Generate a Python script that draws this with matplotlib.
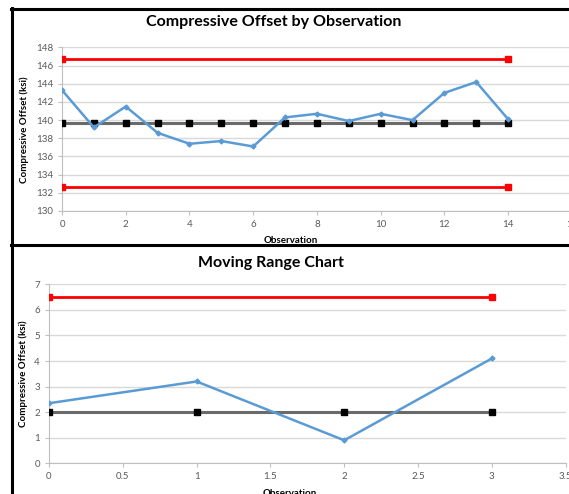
import matplotlib
matplotlib.use('Agg')
import matplotlib.pyplot as plt
from matplotlib.lines import Line2D

plt.rcParams['font.family'] = ['Lato', 'DejaVu Sans']

# top chart data
obs = list(range(15))
offset = [143.3, 139.2, 141.5, 138.6, 137.4, 137.7, 137.1, 140.3, 140.7, 139.9, 140.7, 140.0, 143.0, 144.2, 140.1]
center = 139.7
ucl = 146.7
lcl = 132.6

# moving range data
mr_obs = [0, 1, 2, 3]
mr = [2.35, 3.2, 0.9, 4.1]
mr_center = 2.0
mr_ucl = 6.5

blue = '#5B9BD5'
tick_col = '#595959'
grid_col = '#D9D9D9'
W, H = 569, 494

fig = plt.figure(figsize=(5.69, 4.94), dpi=100)

def style(ax):
    ax.set_facecolor('white')
    ax.grid(axis='y', color=grid_col, lw=1)
    ax.set_axisbelow(True)
    for s in ['top', 'right']:
        ax.spines[s].set_visible(False)
    for s in ['left', 'bottom']:
        ax.spines[s].set_color('#BFBFBF')
    ax.tick_params(colors='#BFBFBF', labelcolor=tick_col, labelsize=7, length=3, width=0.8)

# --- top: individuals chart
ax1 = fig.add_axes([0.109, 0.5729, 0.896, 0.331])
style(ax1)
ax1.plot(obs, [center] * len(obs), color='#6A6A6A', lw=2.2, marker='s', ms=4, mfc='black', mec='black', zorder=3)
ax1.plot([obs[0], obs[-1]], [ucl, ucl], color='red', lw=2, marker='s', ms=4, zorder=3)
ax1.plot([obs[0], obs[-1]], [lcl, lcl], color='red', lw=2, marker='s', ms=4, zorder=3)
ax1.plot(obs, offset, color=blue, lw=1.8, marker='D', ms=2.5, zorder=4)
ax1.set_xlim(0, 16)
ax1.set_ylim(130, 148)
ax1.set_xticks(range(0, 17, 2))
ax1.set_yticks(range(130, 149, 2))
ax1.set_ylabel('Compressive Offset (ksi)', fontsize=7, fontweight='bold')
ax1.yaxis.set_label_coords(-0.064, 0.5)
ax1.set_xlabel('Observation', fontsize=7, fontweight='bold')
ax1.xaxis.set_label_coords(0.449, -0.152)
fig.text(274 / W, 1 - 22 / H, 'Compressive Offset by Observation', fontsize=11.5,
         fontweight='bold', ha='center', va='center')

# --- bottom: moving range chart
ax2 = fig.add_axes([0.0861, 0.0621, 0.908, 0.3624])
style(ax2)
ax2.plot(mr_obs, [mr_center] * len(mr_obs), color='#6A6A6A', lw=2.2, marker='s', ms=4, mfc='black', mec='black', zorder=3)
ax2.plot([mr_obs[0], mr_obs[-1]], [mr_ucl, mr_ucl], color='red', lw=2, marker='s', ms=4, zorder=3)
ax2.plot(mr_obs, mr, color=blue, lw=1.8, marker='D', ms=2.5, zorder=4)
ax2.set_xlim(0, 3.5)
ax2.set_ylim(0, 7)
ax2.set_xticks([0, 0.5, 1, 1.5, 2, 2.5, 3, 3.5])
ax2.set_xticklabels(['0', '0.5', '1', '1.5', '2', '2.5', '3', '3.5'])
ax2.set_yticks(range(0, 8))
ax2.set_ylabel('Compressive Offset (ksi)', fontsize=7, fontweight='bold')
ax2.yaxis.set_label_coords(-0.041, 0.5)
ax2.set_xlabel('Observation', fontsize=7, fontweight='bold')
ax2.xaxis.set_label_coords(0.466, -0.145)
fig.text(271 / W, 1 - 263 / H, 'Moving Range Chart', fontsize=11.5,
         fontweight='bold', ha='center', va='center')

# black frame lines of the screenshot
def hline(y, x0, x1, lw):
    fig.add_artist(Line2D([x0 / W, x1 / W], [1 - y / H, 1 - y / H], color='black', lw=lw))
def vline(x, y0, y1, lw):
    fig.add_artist(Line2D([x / W, x / W], [1 - y0 / H, 1 - y1 / H], color='black', lw=lw))

hline(9, 11, W, 2.2)
hline(245, 11, W, 2.2)
vline(11.5, 8, H, 2.2)

fig.savefig('out.png', dpi=100)
